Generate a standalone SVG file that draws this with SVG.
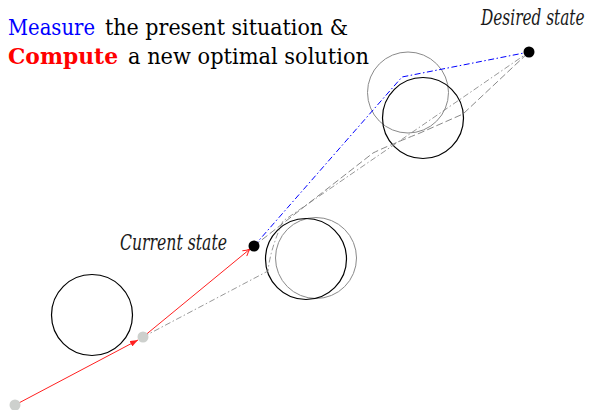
<svg xmlns="http://www.w3.org/2000/svg" width="592" height="410" viewBox="0 0 592 410">
  <style>
    .obs { fill: none; stroke: #000; stroke-width: 1.2; }
    .pred { fill: none; stroke: #8a8a8a; stroke-width: 1; }
    .dotk { fill: #000; }
    .dotg { fill: #cdd0cd; }
    .red { fill: none; stroke: #ff2020; stroke-width: 1; }
    .blue { fill: none; stroke: #0000ff; stroke-width: 1; stroke-dasharray: 6 2.5 1.5 2.5; }
    .gdd { fill: none; stroke: #8c8c8c; stroke-width: 0.9; stroke-dasharray: 6 2.5 1.5 2.5; }
    .gda { fill: none; stroke: #7a7a7a; stroke-width: 0.9; stroke-dasharray: 7 3; }
    .ttl { font-family: 'DejaVu Serif', serif; font-size: 22px; }
    .lbl { font-family: 'DejaVu Serif', serif; font-style: italic; font-size: 22px; fill: #1a1a1a; }
  </style>
  <defs>
    <marker id="arrF" viewBox="0 0 8 6" refX="8" refY="3" markerWidth="8" markerHeight="6" markerUnits="userSpaceOnUse" orient="auto">
      <path d="M0,0 L8,3 L0,6 z" fill="#ff2020"/>
    </marker>
    <marker id="arrO" viewBox="0 0 8 8" refX="7.5" refY="4" markerWidth="8" markerHeight="8" markerUnits="userSpaceOnUse" orient="auto">
      <path d="M0.5,0.5 Q4,3 7.5,4 Q4,5 0.5,7.5" fill="none" stroke="#ff2020" stroke-width="1"/>
    </marker>
  </defs>

  <g id="title">
    <text class="ttl" x="8" y="35" fill="#0000ff" textLength="87" lengthAdjust="spacingAndGlyphs">Measure</text>
    <text class="ttl" x="105" y="35" textLength="243" lengthAdjust="spacingAndGlyphs">the present situation &amp;</text>
    <text class="ttl" x="8" y="64" fill="#ff0000" font-weight="bold" textLength="110" lengthAdjust="spacingAndGlyphs">Compute</text>
    <text class="ttl" x="128" y="64" textLength="241" lengthAdjust="spacingAndGlyphs">a new optimal solution</text>
  </g>

  <g id="obstacles">
    <circle id="obstacle-1" class="obs" cx="92" cy="315" r="40.5"/>
    <circle id="obstacle-2-pred" class="pred" cx="316" cy="258" r="40.5"/>
    <circle id="obstacle-2" class="obs" cx="306" cy="259" r="40.5"/>
    <circle id="obstacle-3-pred" class="pred" cx="408" cy="92.5" r="40.5"/>
    <circle id="obstacle-3" class="obs" cx="423" cy="118" r="40.5"/>
  </g>

  <g id="connectors">
    <path class="gdd" d="M143,337 L268,271 Q270,250 283,221 L529,52"/>
    <path class="gda" d="M254,246 L373,153 Q385,147 420,133 L463,114 L529,52"/>
    <path class="blue" d="M254,246 L402,77 L529,52"/>
    <path class="red" d="M15,405 L138,340" marker-end="url(#arrF)"/>
    <path class="red" d="M143,337 L250,249" marker-end="url(#arrO)"/>
  </g>

  <g id="start-state">
    <circle class="dotg" cx="15" cy="405" r="5.5"/>
  </g>
  <g id="previous-state">
    <circle class="dotg" cx="143" cy="337" r="5.5"/>
  </g>
  <g id="current-state">
    <circle class="dotk" cx="254" cy="246" r="5.5"/>
    <text class="lbl" transform="translate(120,250) scale(0.7,1)" textLength="152.9" lengthAdjust="spacingAndGlyphs">Current state</text>
  </g>
  <g id="desired-state">
    <circle class="dotk" cx="529" cy="52" r="5.5"/>
    <text class="lbl" transform="translate(481,25) scale(0.7,1)" textLength="148" lengthAdjust="spacingAndGlyphs">Desired state</text>
  </g>
</svg>
